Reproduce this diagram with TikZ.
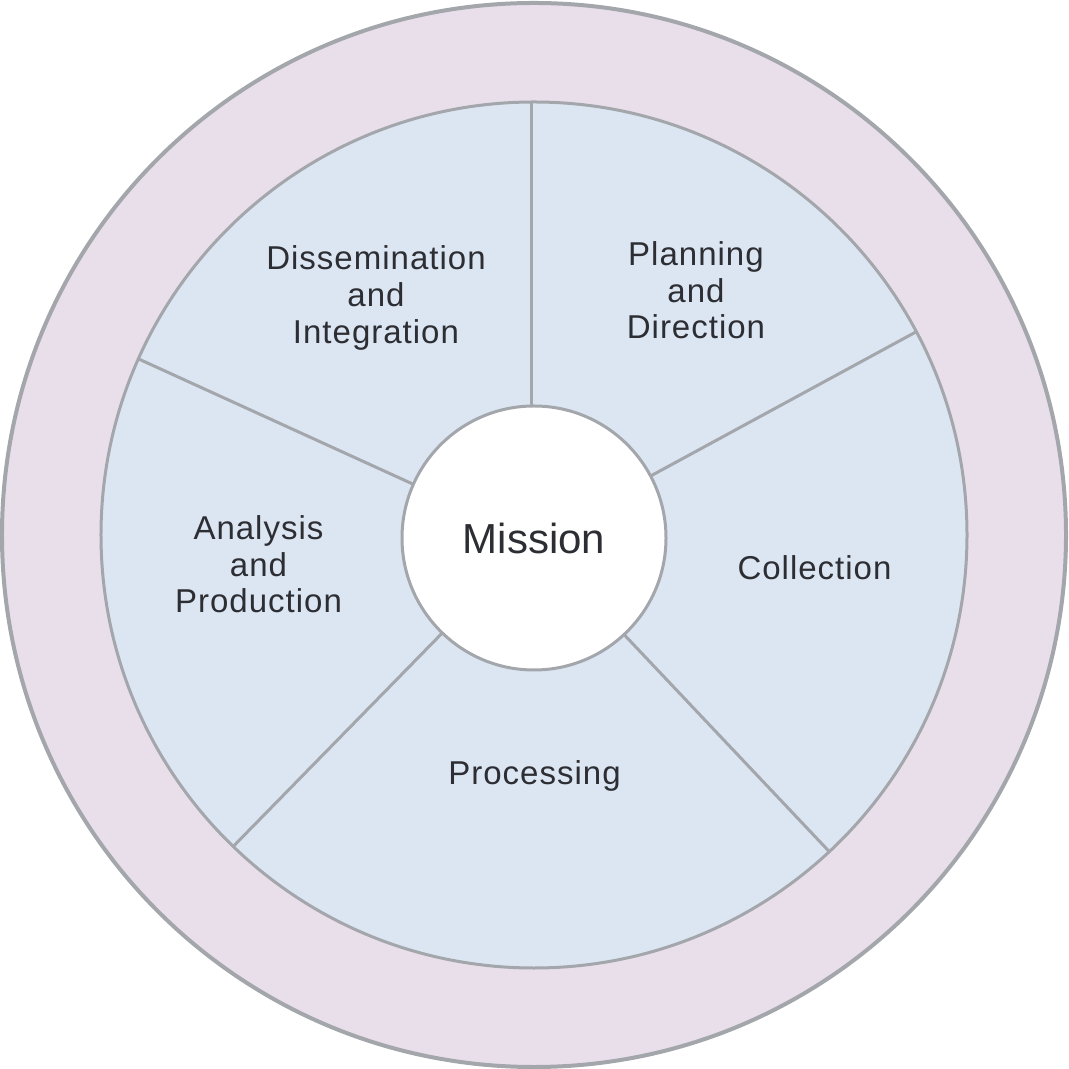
\documentclass[tikz,border=0pt]{standalone}
\usepackage{fontspec}
\setmainfont{Liberation Sans}
\newfontfamily\etapafont[LetterSpace=3]{Liberation Sans}

\definecolor{rosa}{RGB}{233,223,235}
\definecolor{celeste}{RGB}{220,230,242}
\definecolor{lineagris}{RGB}{163,166,171}
\definecolor{textogris}{RGB}{45,46,51}

\begin{document}
\begin{tikzpicture}[
    aro/.style={
        circle,
        inner sep=0pt,
        outer sep=0pt,
        draw=lineagris,
        line width=0.03cm
    },
    radio/.style={
        draw=lineagris,
        line width=0.03cm
    },
    etapa/.style={
        font=\etapafont\fontsize{9.4}{10.4}\selectfont,
        text=textogris,
        align=center
    }
]

%------------------------------------------------
% Parámetros
%------------------------------------------------
\def\dext{10.64cm}
\def\dint{8.66cm}
\def\dmis{2.64cm}

\useasboundingbox (-5.34,-5.34) rectangle (5.34,5.35);

%------------------------------------------------
% Círculos
%------------------------------------------------
\node[aro, fill=rosa, line width=0.04cm, minimum size=\dext] (exterior) at (0,0) {};
\node[aro, fill=celeste, minimum size=\dint] (interior) at (0,0) {};
\node[aro, fill=white, minimum size=\dmis, text=textogris,
      font=\fontsize{11.95}{14}\selectfont] (mision) at (0,-0.03) {Mission};

%------------------------------------------------
% Divisiones
%------------------------------------------------
\draw[radio] (mision.91.3) -- (mision.91.3 |- interior.north);
\foreach \ang in {28,-47.5,-134,156} {
    \draw[radio] (mision.\ang) -- (interior.\ang);
}

%------------------------------------------------
% Etapas
%------------------------------------------------
\node[etapa] (difusion) at (-1.58,2.37) {Dissemination\\and\\Integration};
\node[etapa] (planificacion) at (1.62,2.445) {Planning\\and\\Direction};
\node[etapa, anchor=base] (recoleccion) at (2.805,-0.45) {Collection};
\node[etapa, anchor=base] (procesamiento) at (0.005,-2.50) {Processing};
\node[etapa] (analisis) at (-2.755,-0.295) {Analysis\\and\\Production};

\end{tikzpicture}
\end{document}
